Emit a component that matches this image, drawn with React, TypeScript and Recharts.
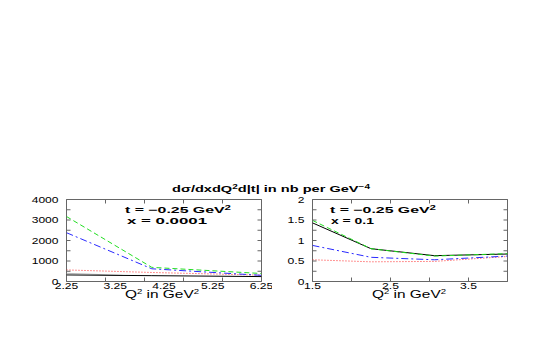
import React from "react"
import { LineChart, Line, XAxis, YAxis, ReferenceArea } from "recharts"

// left panel, x = 0.0001 (grey only runs to 3.4)
const q2Small = [2.25, 3.4, 4, 6.25]
const greenSmall = [3170, null, 690, 390]
const blueSmall = [2380, null, 620, 300]
const redSmall = [565, null, 440, 310]
const blackSmall = [320, null, 285, 240]
const greySmall = [400, 298, null, null]

// right panel, x = 0.1
const q2Large = [1.5, 2.25, 3.0625, 4]
const greenLarge = [1.49, 0.8, 0.62, 0.68]
const blackLarge = [1.43, 0.8, 0.63, 0.67]
const blueLarge = [0.88, 0.59, 0.53, 0.62]
const redLarge = [0.53, 0.48, 0.49, 0.61]

// ticks
const xLabelsSmall = [2.25, 3.25, 4.25, 5.25, 6.25]
const xMarksSmall = [2.25, 3.05, 3.85, 4.65, 5.45, 6.25]
const yMarksSmall = [0, 500, 1000, 1500, 2000, 2500, 3000, 3500, 4000]
const yLabelsSmall = [0, 1000, 2000, 3000, 4000]
const xLabelsLarge = [1.5, 2.5, 3.5]
const xMarksLarge = [1.5, 2, 2.5, 3, 3.5, 4]
const yMarksLarge = [0, 0.25, 0.5, 0.75, 1, 1.25, 1.5, 1.75, 2]
const yLabelsLarge = [0, 0.5, 1, 1.5, 2]

const FONT = '"Liberation Sans", Arial, Helvetica, sans-serif'
const FRAME = "#666"
const TICK = 4

const styles: Record<string, { stroke: string; dash?: string }> = {
  grey: { stroke: "#b4b4b4" },
  red: { stroke: "#ff2a2a", dash: "1 2" },
  blue: { stroke: "#2a2aff", dash: "7 3 2 3" },
  black: { stroke: "#000" },
  green: { stroke: "#22dd22", dash: "5 3" },
}

// rough width of a number label in the stretched original font
const labelWidth = (s: string) =>
  s.split("").reduce((w, c) => w + (c === "." ? 3.5 : 6.7), 0)

const union = (a: number[], b: number[]) =>
  Array.from(new Set([...a, ...b])).sort((m, n) => m - n)

function zipRows(q: number[], cols: Record<string, (number | null)[]>) {
  return q.map((v, i) => {
    const row: Record<string, number | null> = { q: v }
    Object.entries(cols).forEach(([k, arr]) => (row[k] = arr[i]))
    return row
  })
}

interface PanelProps {
  left: number
  width: number
  plotLeft: number
  plotRight: number
  plotTop: number
  plotBottom: number
  xDomain: [number, number]
  yDomain: [number, number]
  xLabels: number[]
  xMarks: number[]
  yLabels: number[]
  yMarks: number[]
  rows: Record<string, number | null>[]
  keys: string[]
}

const AX_L = 30
const AX_B = 20

function numText(s: string, x: number, y: number, anchor: string) {
  return (
    <text
      x={x}
      y={y}
      textAnchor={anchor}
      fontSize={9}
      fontFamily={FONT}
      fill="#000"
      stroke="none"
      textLength={labelWidth(s)}
      lengthAdjust="spacingAndGlyphs"
    >
      {s}
    </text>
  )
}

function Panel(p: PanelProps) {
  const height = 354
  const plotW = p.plotRight - p.plotLeft
  const plotH = p.plotBottom - p.plotTop
  const margin = {
    top: p.plotTop,
    left: p.plotLeft - p.left - AX_L,
    right: p.left + p.width - p.plotRight,
    bottom: height - p.plotBottom - AX_B,
  }

  // tickSize/tickMargin are 0, so props.x / props.y sit on the axis line;
  // the mirrored marks on the top / right edge are drawn from the same tick
  const bottomTick = (props: any) => {
    const v = props.payload.value
    const mark = p.xMarks.includes(v)
    return (
      <g>
        {mark && (
          <line x1={props.x} x2={props.x} y1={props.y} y2={props.y - TICK} stroke={FRAME} strokeWidth={1} />
        )}
        {mark && (
          <line
            x1={props.x}
            x2={props.x}
            y1={props.y - plotH}
            y2={props.y - plotH + TICK}
            stroke={FRAME}
            strokeWidth={1}
          />
        )}
        {p.xLabels.includes(v) && numText(String(v), props.x, props.y + 7.5, "middle")}
      </g>
    )
  }

  const leftTick = (props: any) => {
    const v = props.payload.value
    return (
      <g>
        <line x1={props.x} x2={props.x + TICK} y1={props.y} y2={props.y} stroke={FRAME} strokeWidth={1} />
        <line
          x1={props.x + plotW - TICK}
          x2={props.x + plotW}
          y1={props.y}
          y2={props.y}
          stroke={FRAME}
          strokeWidth={1}
        />
        {p.yLabels.includes(v) && numText(String(v), props.x - 8, props.y + 3.2, "end")}
      </g>
    )
  }

  const common = {
    type: "number" as const,
    allowDataOverflow: true,
    interval: 0 as const,
    tickSize: 0,
    tickMargin: 0,
    tickLine: false,
    axisLine: false,
  }

  return (
    <div style={{ position: "absolute", left: p.left, top: 0 }}>
      <LineChart width={p.width} height={height} data={p.rows} margin={margin}>
        <XAxis
          {...common}
          xAxisId="b"
          dataKey="q"
          domain={p.xDomain}
          ticks={union(p.xMarks, p.xLabels)}
          height={AX_B}
          tick={bottomTick}
        />
        <YAxis
          {...common}
          yAxisId="l"
          domain={p.yDomain}
          ticks={p.yMarks}
          width={AX_L}
          tick={leftTick}
        />
        <ReferenceArea
          xAxisId="b"
          yAxisId="l"
          x1={p.xDomain[0]}
          x2={p.xDomain[1]}
          y1={p.yDomain[0]}
          y2={p.yDomain[1]}
          fill="none"
          stroke={FRAME}
          strokeWidth={1}
          ifOverflow="visible"
        />
        {p.keys.map((k) => (
          <Line
            key={k}
            xAxisId="b"
            yAxisId="l"
            dataKey={k}
            stroke={styles[k].stroke}
            strokeDasharray={styles[k].dash}
            strokeWidth={1}
            dot={false}
            connectNulls
            isAnimationActive={false}
          />
        ))}
      </LineChart>
    </div>
  )
}

export default function App() {
  const rowsSmall = zipRows(q2Small, {
    grey: greySmall,
    red: redSmall,
    blue: blueSmall,
    black: blackSmall,
    green: greenSmall,
  })
  const rowsLarge = zipRows(q2Large, {
    red: redLarge,
    blue: blueLarge,
    black: blackLarge,
    green: greenLarge,
  })

  const sup = (s: string) => (
    <tspan dy={-3.5} fontSize={6.5}>
      {s}
    </tspan>
  )

  return (
    <div
      style={{
        position: "absolute",
        left: 0,
        top: 0,
        width: 545,
        height: 354,
        background: "#fff",
        fontFamily: FONT,
      }}
    >
      <Panel
        left={0}
        width={272}
        plotLeft={66.5}
        plotRight={261.5}
        plotTop={199.5}
        plotBottom={281.5}
        xDomain={[2.25, 6.25]}
        yDomain={[0, 4000]}
        xLabels={xLabelsSmall}
        xMarks={xMarksSmall}
        yLabels={yLabelsSmall}
        yMarks={yMarksSmall}
        rows={rowsSmall}
        keys={["grey", "red", "blue", "black", "green"]}
      />
      <Panel
        left={272}
        width={273}
        plotLeft={312.5}
        plotRight={507.5}
        plotTop={199.5}
        plotBottom={281.5}
        xDomain={[1.5, 4]}
        yDomain={[0, 2]}
        xLabels={xLabelsLarge}
        xMarks={xMarksLarge}
        yLabels={yLabelsLarge}
        yMarks={yMarksLarge}
        rows={rowsLarge}
        keys={["red", "blue", "black", "green"]}
      />
      <svg
        width={545}
        height={354}
        style={{ position: "absolute", left: 0, top: 0, pointerEvents: "none" }}
        fontFamily={FONT}
      >
        <text
          x={172}
          y={192}
          fontSize={9.5}
          fontWeight="bold"
          textLength={198}
          lengthAdjust="spacingAndGlyphs"
        >
          dσ/dxdQ{sup("2")}
          <tspan dy={3.5}>d|t| in nb per GeV</tspan>
          {sup("−4")}
        </text>

        <text x={125} y={213} fontSize={9} fontWeight="bold" textLength={106} lengthAdjust="spacingAndGlyphs">
          t = −0.25 GeV{sup("2")}
        </text>
        <text x={127} y={223.5} fontSize={9} fontWeight="bold" textLength={80} lengthAdjust="spacingAndGlyphs">
          x = 0.0001
        </text>

        <text x={330} y={213} fontSize={9} fontWeight="bold" textLength={106} lengthAdjust="spacingAndGlyphs">
          t = −0.25 GeV{sup("2")}
        </text>
        <text x={331} y={223.5} fontSize={9} fontWeight="bold" textLength={43} lengthAdjust="spacingAndGlyphs">
          x = 0.1
        </text>

        <text x={125} y={297.5} fontSize={10.5} textLength={74} lengthAdjust="spacingAndGlyphs">
          Q{sup("2")}
          <tspan dy={3.5}> in GeV</tspan>
          {sup("2")}
        </text>
        <text x={372} y={297.5} fontSize={10.5} textLength={74} lengthAdjust="spacingAndGlyphs">
          Q{sup("2")}
          <tspan dy={3.5}> in GeV</tspan>
          {sup("2")}
        </text>
      </svg>
    </div>
  )
}
